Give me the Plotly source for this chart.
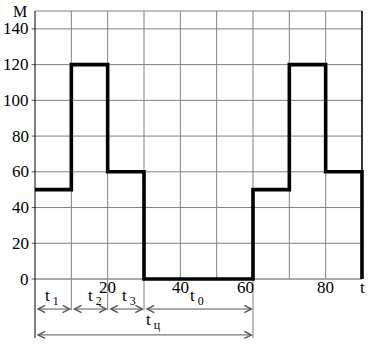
import plotly.graph_objects as go

# ---- data ----
t_points = [0, 10, 20, 30, 60, 70, 80, 90]
M_values = [50, 120, 60, 0, 50, 120, 60, 0]
M_ticks = [0, 20, 40, 60, 80, 100, 120, 140]
t_ticks = [20, 40, 60, 80]
t_grid = [0, 10, 20, 30, 40, 50, 60, 70, 80, 90]
M_top = 150
intervals = [(0, 10), (10, 20), (20, 30), (30, 60)]
interval_names = ["t<sub> 1</sub>", "t<sub> 2</sub>", "t<sub> 3</sub>", "t<sub> 0</sub>"]
interval_label_x = [4.6, 16.4, 26.0, 44.6]
cycle = (0, 60)
cycle_name = "t<sub> ц</sub>"

FONT = "Liberation Serif, Times New Roman, Tinos, serif"
GRID = "#808080"

fig = go.Figure()
fig.add_trace(go.Scatter(x=t_points, y=M_values, mode="lines",
                         line=dict(shape="hv", color="black", width=3.6),
                         hoverinfo="skip", showlegend=False))

shapes = []
for m in M_ticks + [M_top]:
    shapes.append(dict(type="line", xref="x", yref="y", x0=0, x1=90, y0=m, y1=m, layer="below",
                       line=dict(color=GRID if m != 0 else "#555", width=1)))
    if m != M_top:
        shapes.append(dict(type="line", xref="x", yref="y", x0=-0.9, x1=0, y0=m, y1=m, layer="below",
                           line=dict(color="#555", width=1)))
for t in t_grid:
    if t in (0, 60):
        ybot = -33
    elif t in (10, 20, 30):
        ybot = -17.5
    else:
        ybot = 0
    col = "black" if t in (0, 90) else GRID
    w = 1.6 if t == 90 else 1
    shapes.append(dict(type="line", xref="x", yref="y", x0=t, x1=t, y0=ybot, y1=M_top, layer="below",
                       line=dict(color=col, width=w)))

annotations = []
for m in M_ticks:
    annotations.append(dict(x=-1.0, y=m, xref="x", yref="y", text=str(m), showarrow=False,
                            xanchor="right", yanchor="middle",
                            font=dict(family=FONT, size=17, color="black")))
annotations.append(dict(x=-1.6, y=149.5, xref="x", yref="y", text="M", showarrow=False,
                        xanchor="right", yanchor="middle",
                        font=dict(family=FONT, size=16, color="black")))
tick_pos = {20: 20, 40: 40, 60: 57.8, 80: 80}
for t in t_ticks:
    annotations.append(dict(x=tick_pos[t], y=-4.6, xref="x", yref="y", text=str(t), showarrow=False,
                            xanchor="center", yanchor="middle",
                            font=dict(family=FONT, size=17, color="black")))
annotations.append(dict(x=90.2, y=-4.6, xref="x", yref="y", text="t", showarrow=False,
                        xanchor="center", yanchor="middle",
                        font=dict(family=FONT, size=17, color="black")))

arrow_y1 = -16.8
for (a, b), name, lx in zip(intervals, interval_names, interval_label_x):
    annotations.append(dict(x=b, y=arrow_y1, ax=a, ay=arrow_y1, xref="x", yref="y",
                            axref="x", ayref="y", text="", showarrow=True,
                            arrowhead=5, startarrowhead=5, arrowside="end+start",
                            arrowsize=1.4, startarrowsize=1.4, arrowwidth=1, arrowcolor="#555",
                            standoff=0, startstandoff=0))
    annotations.append(dict(x=lx, y=-9.8, xref="x", yref="y", text=name, showarrow=False,
                            xanchor="center", yanchor="middle",
                            font=dict(family=FONT, size=17, color="black")))
arrow_y2 = -31.3
annotations.append(dict(x=cycle[1], y=arrow_y2, ax=cycle[0], ay=arrow_y2, xref="x", yref="y",
                        axref="x", ayref="y", text="", showarrow=True,
                        arrowhead=5, startarrowhead=5, arrowside="end+start",
                        arrowsize=1.4, startarrowsize=1.4, arrowwidth=1, arrowcolor="#555",
                        standoff=0, startstandoff=0))
annotations.append(dict(x=32.6, y=-23.4, xref="x", yref="y", text=cycle_name, showarrow=False,
                        xanchor="center", yanchor="middle",
                        font=dict(family=FONT, size=17, color="black")))

fig.update_layout(
    width=373, height=344,
    margin=dict(l=0, r=0, t=0, b=0),
    paper_bgcolor="white", plot_bgcolor="white",
    xaxis=dict(range=[-9.633, 93.03], visible=False, fixedrange=True),
    yaxis=dict(range=[-36.38, 156.16], visible=False, fixedrange=True),
    shapes=shapes, annotations=annotations,
)

fig.write_html("out.html")
